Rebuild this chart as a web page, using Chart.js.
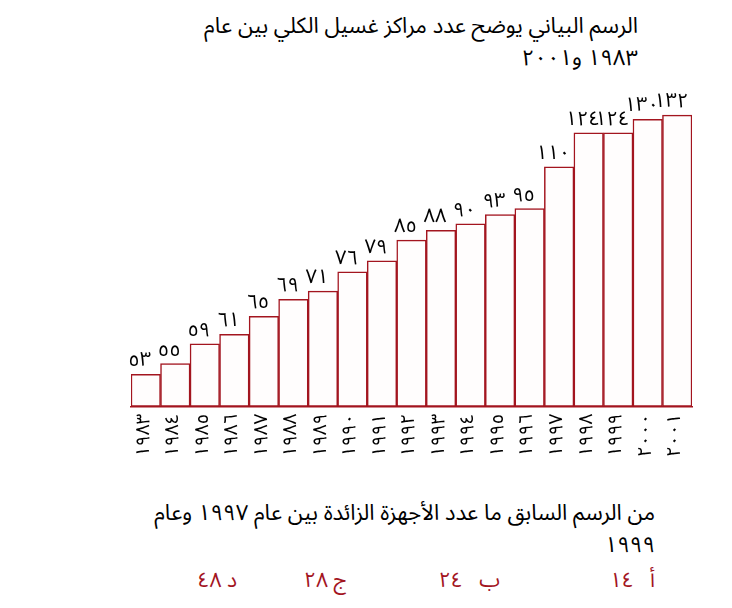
<!DOCTYPE html>
<html lang="ar">
<head>
<meta charset="utf-8">
<script src="https://cdn.jsdelivr.net/npm/chart.js@4/dist/chart.umd.min.js"></script>
<style>
  html, body { margin: 0; padding: 0; background: #fff; }
  body { width: 732px; height: 608px; position: relative; overflow: hidden;
         font-family: "Noto Sans Arabic", "DejaVu Sans", "Noto Sans", sans-serif; color: #000; }
  #wrap { position: absolute; left: 0; top: 0; width: 732px; height: 464px; }
  .rt { position: absolute; direction: rtl; text-align: right; white-space: nowrap; }
  #title { right: 94px; top: 10px; font-size: 22px; line-height: 32px; }
  #question { right: 77px; top: 497px; font-size: 22px; line-height: 32px; }
  .ans { position: absolute; top: 558px; font-size: 21px; color: #a3151f; direction: rtl; white-space: nowrap; }
</style>
</head>
<body>
<div id="title" class="rt">الرسم البياني يوضح عدد مراكز غسيل الكلي بين عام<br>١٩٨٣ و٢٠٠١</div>
<div id="wrap"><canvas id="c" width="732" height="464"></canvas></div>
<div id="question" class="rt">من الرسم السابق ما عدد الأجهزة الزائدة بين عام ١٩٩٧ وعام<br>١٩٩٩</div>
<div class="ans" style="right:77px">أ&nbsp;&nbsp;&nbsp;١٤</div>
<div class="ans" style="right:232px">ب&nbsp;&nbsp;&nbsp;٢٤</div>
<div class="ans" style="right:385px">ج ٢٨</div>
<div class="ans" style="right:495px">د ٤٨</div>
<script>
const years = [1983,1984,1985,1986,1987,1988,1989,1990,1991,1992,1993,1994,1995,1996,1997,1998,1999,2000,2001];
const centres = [53,55,59,61,65,69,71,76,79,85,88,90,93,95,110,124,124,130,132];

const arabicDigits = ['٠','١','٢','٣','٤','٥','٦','٧','٨','٩'];
function toArabic(n) { return String(n).replace(/[0-9]/g, d => arabicDigits[+d]); }
const yearLabels = years.map(toArabic);

const barLabels = {
  id: 'barLabels',
  afterDatasetsDraw(chart) {
    const ctx = chart.ctx;
    const meta = chart.getDatasetMeta(0);
    ctx.save();
    ctx.font = '20px "Noto Sans Arabic", "DejaVu Sans", sans-serif';
    ctx.fillStyle = '#000';
    ctx.textAlign = 'center';
    ctx.textBaseline = 'bottom';
    meta.data.forEach((bar, i) => {
      ctx.fillText(toArabic(centres[i]), bar.x - 6, bar.y - 1);
    });
    ctx.restore();
  }
};

new Chart(document.getElementById('c'), {
  type: 'bar',
  data: {
    labels: yearLabels,
    datasets: [{
      data: centres,
      backgroundColor: '#fffdfd',
      borderColor: '#a3151f',
      borderWidth: 1.5,
      borderSkipped: false,
      categoryPercentage: 1,
      barPercentage: 1
    }]
  },
  options: {
    responsive: false,
    animation: false,
    events: [],
    layout: { padding: { left: 131, right: 40, top: 100, bottom: 0 } },
    plugins: { legend: { display: false }, tooltip: { enabled: false }, title: { display: false } },
    scales: {
      x: {
        offset: true,
        grid: { display: false, drawTicks: false },
        border: { display: true, color: '#a3151f', width: 1.5 },
        ticks: {
          minRotation: 90, maxRotation: 90, autoSkip: false, padding: 7,
          color: '#000',
          font: { size: 19, family: '"Noto Sans Arabic", "DejaVu Sans", sans-serif' }
        }
      },
      y: {
        type: 'logarithmic',
        display: false,
        min: 47.3,
        max: 139.2
      }
    }
  },
  plugins: [barLabels]
});
</script>
</body>
</html>
